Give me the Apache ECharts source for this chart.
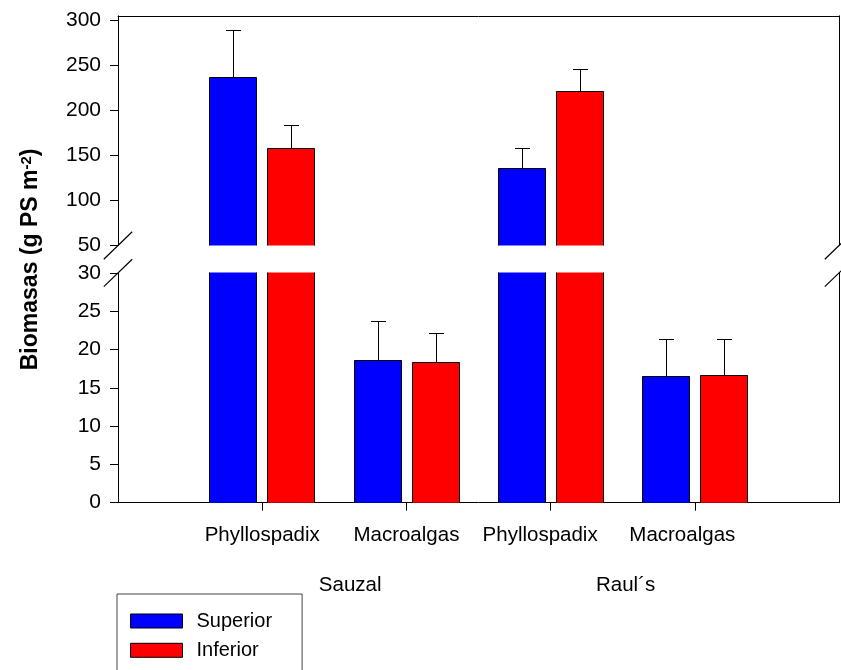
<!DOCTYPE html>
<html>
<head>
<meta charset="utf-8">
<script src="https://cdn.jsdelivr.net/npm/echarts@6/dist/echarts.min.js"></script>
<style>
html, body { margin: 0; padding: 0; background: #fff; }
#chart { width: 841px; height: 670px; }
</style>
</head>
<body>
<div id="chart"></div>
<script>
// Biomass (g PS m-2) by taxon and intertidal level at two sites
const categories = ['Phyllospadix', 'Macroalgas', 'Phyllospadix', 'Macroalgas'];
const sites = ['Sauzal', 'Raul´s'];
const levels = ['Superior', 'Inferior'];
const superiorMean = [236.3, 18.5, 136.0, 16.5];
const superiorErr = [52.1, 5.2, 21.5, 4.8];
const inferiorMean = [157.9, 18.3, 220.8, 16.6];
const inferiorErr = [25.5, 3.8, 24.4, 4.7];
const upperTicks = [50, 100, 150, 200, 250, 300];
const lowerTicks = [0, 5, 10, 15, 20, 25, 30];

// layout of the broken value axis
const upperSeg = { min: 50, max: 305 };
const lowerSeg = { min: 0, max: 30 };
const catPos = categories.map((_, i) => i + 1);
const sitePos = [1.61, 3.52];          // site captions under the category labels
const BAR_W = 0.3225;                  // bar width in category units
const HALF_GAP = 0.04;                 // half the gap between paired bars
const CAP = 7.5;                       // half width of error caps, px
const FONT = "'Liberation Sans', Arial, sans-serif";
const colors = { Superior: '#0000ff', Inferior: '#ff0000' };

const crisp = v => Math.round(v - 0.5) + 0.5;

function barSeries(name, means, errs, side, seg, grid) {
  return {
    type: 'custom',
    name: name,
    xAxisIndex: grid,
    yAxisIndex: grid * 2,
    clip: false,
    itemStyle: { color: colors[name], borderColor: '#000', borderWidth: 1 },
    data: means.map((m, i) => [catPos[i], m, errs[i]]),
    renderItem: function (params, api) {
      const x = api.value(0), v = api.value(1), e = api.value(2);
      if (v <= seg.min) return null;
      const unit = api.size([1, 0])[0];
      const bw = BAR_W * unit, gap = HALF_GAP * unit;
      const c = api.coord([x, seg.min]);
      const l = crisp(side < 0 ? c[0] - gap - bw : c[0] + gap);
      const r = crisp(l + bw);
      const base = c[1];
      const clipped = v > seg.max;
      const top = crisp(api.coord([x, Math.min(v, seg.max)])[1]);
      const children = [{
        type: 'rect',
        shape: { x: l, y: top, width: r - l, height: base - top },
        style: { fill: colors[name] }
      }];
      if (clipped) {
        children.push({ type: 'line', shape: { x1: l, y1: top, x2: l, y2: base }, style: { stroke: '#000', lineWidth: 1 } });
        children.push({ type: 'line', shape: { x1: r, y1: top, x2: r, y2: base }, style: { stroke: '#000', lineWidth: 1 } });
      } else {
        children.push({
          type: 'polyline',
          shape: { points: [[l, base], [l, top], [r, top], [r, base]] },
          style: { stroke: '#000', lineWidth: 1, fill: null }
        });
        const mid = crisp((l + r) / 2);
        const ye = crisp(api.coord([x, Math.min(v + e, seg.max)])[1]);
        children.push({ type: 'line', shape: { x1: mid, y1: top, x2: mid, y2: ye }, style: { stroke: '#000', lineWidth: 1 } });
        children.push({ type: 'line', shape: { x1: mid - CAP, y1: ye, x2: mid + CAP, y2: ye }, style: { stroke: '#000', lineWidth: 1 } });
      }
      return { type: 'group', children: children };
    }
  };
}

// diagonal break marks at both ends of the axis gap
function breakSeries(seg, value, grid) {
  return {
    type: 'custom',
    name: 'break' + grid,
    xAxisIndex: grid,
    yAxisIndex: grid * 2,
    clip: false,
    silent: true,
    data: [[0, value], [5, value]],
    renderItem: function (params, api) {
      const p = api.coord([api.value(0), api.value(1)]);
      return {
        type: 'line',
        shape: { x1: p[0] - 14.2, y1: p[1] + 13.7, x2: p[0] + 14.2, y2: p[1] - 13.7 },
        style: { stroke: '#000', lineWidth: 1.2 }
      };
    }
  };
}

const siteSeries = {
  type: 'custom',
  name: 'sites',
  xAxisIndex: 1,
  yAxisIndex: 2,
  clip: false,
  silent: true,
  data: sitePos.map(p => [p, 0]),
  renderItem: function (params, api) {
    const p = api.coord([api.value(0), api.value(1)]);
    return {
      type: 'text',
      x: p[0],
      y: p[1] + 82.6,
      style: {
        text: sites[params.dataIndex],
        fill: '#000',
        fontSize: 20.5,
        fontFamily: FONT,
        align: 'center',
        verticalAlign: 'middle'
      }
    };
  }
};

const axisLine = { show: true, onZero: false, lineStyle: { color: '#000', width: 1 } };
const tickStyle = { color: '#000', width: 1 };

const option = {
  animation: false,
  backgroundColor: '#fff',
  grid: [
    { left: 118, right: 2, top: 15.8, height: 229.7 },
    { left: 118, right: 2, top: 272.9, height: 229.8 }
  ],
  xAxis: [
    {
      gridIndex: 0, type: 'value', min: 0, max: 5, position: 'top',
      axisLine: axisLine, axisTick: { show: false }, axisLabel: { show: false },
      splitLine: { show: false }
    },
    {
      gridIndex: 1, type: 'value', min: 0, max: 5, position: 'bottom',
      axisLine: axisLine,
      axisTick: { show: true, length: 8, customValues: catPos, lineStyle: tickStyle },
      axisLabel: {
        customValues: catPos,
        margin: 22,
        color: '#000',
        fontSize: 20.5,
        fontFamily: FONT,
        formatter: function (v) {
          const i = Math.round(v) - 1;
          if (i === 2) return '{p|' + categories[i] + '}';
          if (i === 3) return '{m|' + categories[i] + '}';
          return categories[i];
        },
        rich: {
          p: { fontSize: 20.5, fontFamily: FONT, color: '#000', padding: [0, 21, 0, 0] },
          m: { fontSize: 20.5, fontFamily: FONT, color: '#000', padding: [0, 25, 0, 0] }
        }
      },
      splitLine: { show: false }
    }
  ],
  yAxis: [
    {
      gridIndex: 0, type: 'value', min: upperSeg.min, max: upperSeg.max, interval: 50,
      axisLine: axisLine,
      axisTick: { show: true, length: 8, customValues: upperTicks, lineStyle: tickStyle },
      axisLabel: { customValues: upperTicks, margin: 17, color: '#000', fontSize: 21, fontFamily: FONT },
      splitLine: { show: false }
    },
    {
      gridIndex: 0, type: 'value', position: 'right', min: upperSeg.min, max: upperSeg.max,
      axisLine: axisLine, axisTick: { show: false }, axisLabel: { show: false }, splitLine: { show: false }
    },
    {
      gridIndex: 1, type: 'value', min: lowerSeg.min, max: lowerSeg.max, interval: 5,
      axisLine: axisLine,
      axisTick: { show: true, length: 8, customValues: lowerTicks, lineStyle: tickStyle },
      axisLabel: { customValues: lowerTicks, margin: 17, color: '#000', fontSize: 21, fontFamily: FONT },
      splitLine: { show: false }
    },
    {
      gridIndex: 1, type: 'value', position: 'right', min: lowerSeg.min, max: lowerSeg.max,
      axisLine: axisLine, axisTick: { show: false }, axisLabel: { show: false }, splitLine: { show: false }
    }
  ],
  legend: {
    data: levels,
    orient: 'vertical',
    left: 117,
    top: 594,
    height: 60,
    padding: [17, 30, 20, 13],
    itemGap: 9.3,
    itemWidth: 52,
    itemHeight: 14,
    icon: 'rect',
    borderColor: '#444',
    borderWidth: 1,
    borderRadius: 0,
    itemStyle: { borderColor: '#000', borderWidth: 1 },
    textStyle: { color: '#000', fontSize: 20, fontFamily: FONT, padding: [0, 0, 0, 9] }
  },
  graphic: [{
    type: 'text',
    x: 31,
    y: 259.4,
    rotation: Math.PI / 2,
    style: {
      text: 'Biomasas (g PS m{sup|-2})',
      fill: '#000',
      fontSize: 23,
      fontWeight: 'bold',
      fontFamily: FONT,
      align: 'center',
      verticalAlign: 'middle',
      rich: {
        sup: { fontSize: 15, fontWeight: 'bold', fontFamily: FONT, fill: '#000', verticalAlign: 'top' }
      }
    }
  }],
  series: [
    barSeries('Superior', superiorMean, superiorErr, -1, upperSeg, 0),
    barSeries('Inferior', inferiorMean, inferiorErr, 1, upperSeg, 0),
    barSeries('Superior', superiorMean, superiorErr, -1, lowerSeg, 1),
    barSeries('Inferior', inferiorMean, inferiorErr, 1, lowerSeg, 1),
    breakSeries(upperSeg, upperSeg.min, 0),
    breakSeries(lowerSeg, lowerSeg.max, 1),
    siteSeries
  ]
};

const chart = echarts.init(document.getElementById('chart'), null, { renderer: 'canvas' });
chart.setOption(option);
</script>
</body>
</html>
